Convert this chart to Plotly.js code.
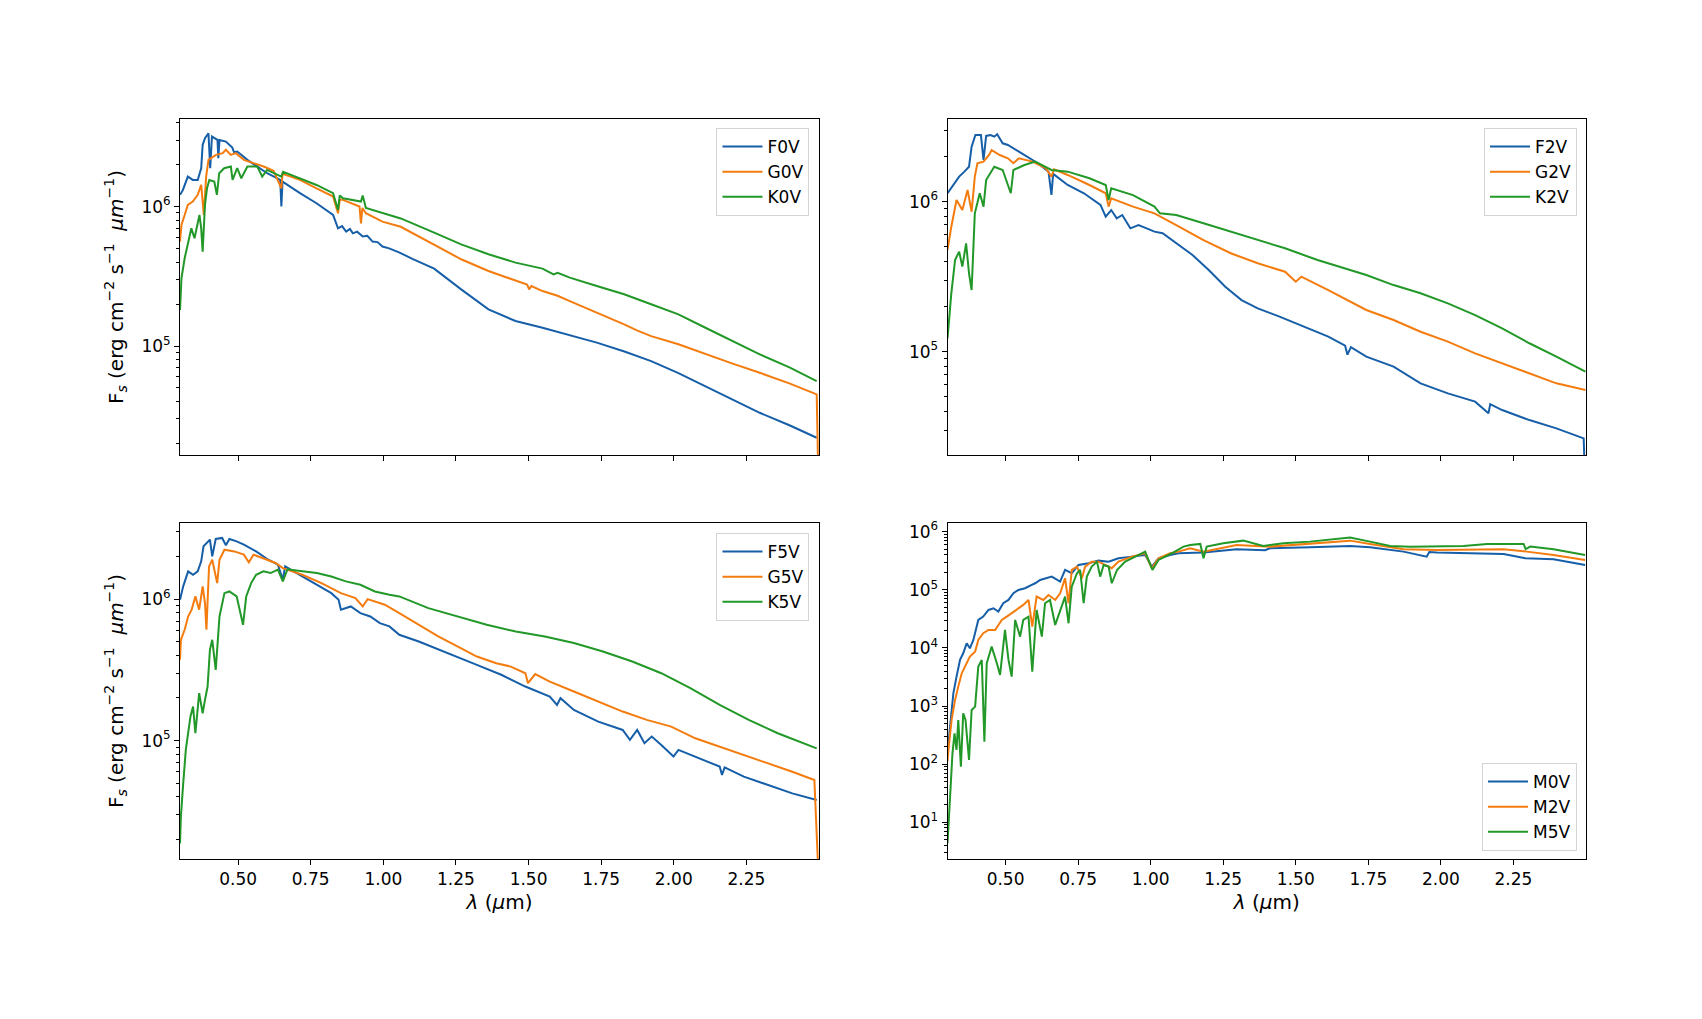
<!DOCTYPE html>
<html>
<head>
<meta charset="utf-8">
<script src="https://cdn.plot.ly/plotly-3.0.1.min.js"></script>
<style>
  body { margin: 0; background: #fff; }
</style>
</head>
<body>
<div id="chart" style="width:1702px;height:1019px"></div>
<script>
// wavelengths in micron, flux as log10(erg cm-2 s-1 um-1)

// top left: F0V, G0V, K0V
const f0vWave = [0.300,0.310,0.327,0.344,0.361,0.373,0.378,0.386,0.398,0.404,0.410,0.429,0.432,0.436,0.458,0.480,0.486,0.497,0.532,0.566,0.600,0.645,0.649,0.653,0.713,0.770,0.827,0.844,0.858,0.872,0.885,0.895,0.910,0.929,0.945,0.963,0.980,0.997,1.020,1.054,1.100,1.175,1.220,1.268,1.362,1.455,1.548,1.640,1.735,1.830,1.922,2.016,2.109,2.200,2.296,2.400,2.492];
const f0vLog = [6.084,6.119,6.215,6.191,6.191,6.275,6.443,6.490,6.526,6.275,6.502,6.478,6.347,6.478,6.466,6.423,6.390,6.395,6.335,6.287,6.239,6.191,6.000,6.179,6.096,6.024,5.940,5.844,5.860,5.820,5.840,5.808,5.820,5.785,5.790,5.749,5.745,5.713,5.700,5.672,5.625,5.555,5.480,5.406,5.263,5.179,5.131,5.080,5.024,4.960,4.892,4.805,4.712,4.620,4.521,4.430,4.342];

const g0vWave = [0.300,0.305,0.316,0.327,0.344,0.361,0.373,0.382,0.390,0.398,0.407,0.424,0.447,0.458,0.475,0.492,0.520,0.554,0.588,0.622,0.649,0.653,0.713,0.770,0.827,0.844,0.850,0.861,0.918,0.923,0.928,0.940,0.997,1.060,1.175,1.268,1.362,1.455,1.495,1.502,1.510,1.548,1.600,1.642,1.690,1.735,1.780,1.829,1.875,1.922,2.016,2.109,2.200,2.296,2.400,2.492,2.499];
const g0vLog = [5.749,5.868,5.940,6.012,6.036,6.084,6.155,5.940,6.215,6.335,6.347,6.371,6.383,6.407,6.371,6.383,6.335,6.311,6.287,6.256,6.131,6.235,6.191,6.131,6.072,5.952,6.050,6.048,6.000,5.880,5.990,5.952,5.892,5.855,5.729,5.622,5.538,5.473,5.440,5.406,5.430,5.394,5.360,5.322,5.280,5.239,5.200,5.155,5.110,5.071,5.012,4.940,4.875,4.808,4.730,4.653,3.900];

const k0vWave = [0.300,0.305,0.316,0.327,0.339,0.350,0.367,0.373,0.378,0.386,0.393,0.401,0.418,0.427,0.435,0.452,0.475,0.481,0.497,0.511,0.532,0.566,0.583,0.600,0.649,0.655,0.713,0.770,0.827,0.844,0.850,0.861,0.923,0.929,0.940,0.997,1.060,1.175,1.268,1.362,1.455,1.548,1.586,1.600,1.642,1.735,1.829,1.922,2.016,2.109,2.200,2.296,2.400,2.492];
const k0vLog = [5.258,5.485,5.629,5.725,5.844,5.773,5.940,5.844,5.677,6.012,6.131,6.191,6.179,6.084,6.239,6.275,6.287,6.191,6.275,6.203,6.287,6.287,6.215,6.263,6.215,6.250,6.203,6.155,6.096,5.976,6.080,6.060,6.036,6.080,5.990,5.952,5.915,5.813,5.729,5.658,5.598,5.555,5.514,5.525,5.490,5.430,5.371,5.299,5.227,5.131,5.040,4.940,4.845,4.748];

// top right: F2V, G2V, K2V
const f2vWave = [0.300,0.322,0.340,0.358,0.374,0.383,0.396,0.415,0.424,0.433,0.448,0.461,0.471,0.490,0.508,0.546,0.583,0.611,0.648,0.658,0.664,0.714,0.770,0.827,0.845,0.864,0.883,0.902,0.930,0.958,0.986,1.013,1.041,1.088,1.144,1.200,1.257,1.313,1.369,1.444,1.500,1.556,1.612,1.670,1.678,1.690,1.743,1.837,1.930,2.024,2.118,2.164,2.170,2.211,2.305,2.398,2.492,2.499];
const f2vLog = [6.056,6.122,6.167,6.200,6.233,6.367,6.444,6.444,6.278,6.438,6.444,6.433,6.449,6.389,6.378,6.333,6.289,6.256,6.200,6.045,6.185,6.111,6.056,5.978,5.900,5.944,5.889,5.911,5.822,5.844,5.822,5.800,5.789,5.722,5.644,5.544,5.433,5.344,5.289,5.234,5.189,5.144,5.100,5.040,4.980,5.030,4.967,4.900,4.789,4.722,4.667,4.589,4.650,4.611,4.544,4.489,4.422,4.000];

const g2vWave = [0.300,0.313,0.331,0.351,0.369,0.383,0.394,0.403,0.424,0.443,0.452,0.480,0.508,0.527,0.546,0.593,0.639,0.658,0.667,0.714,0.789,0.845,0.855,0.864,0.939,1.013,1.088,1.182,1.276,1.369,1.463,1.500,1.519,1.612,1.743,1.837,1.930,2.024,2.118,2.211,2.305,2.398,2.498];
const g2vLog = [5.678,5.833,6.011,5.944,6.078,5.933,6.167,6.256,6.267,6.311,6.344,6.311,6.289,6.256,6.289,6.267,6.222,6.167,6.215,6.178,6.111,6.056,5.967,6.022,5.967,5.922,5.844,5.744,5.656,5.589,5.533,5.467,5.500,5.411,5.278,5.211,5.133,5.067,4.989,4.922,4.856,4.789,4.745];

const k2vWave = [0.300,0.313,0.326,0.340,0.351,0.364,0.374,0.383,0.394,0.411,0.424,0.433,0.461,0.490,0.518,0.527,0.565,0.602,0.658,0.714,0.789,0.845,0.855,0.864,0.939,1.013,1.032,1.088,1.182,1.276,1.369,1.463,1.575,1.650,1.743,1.837,1.930,2.024,2.118,2.211,2.305,2.398,2.498];
const k2vLog = [5.089,5.389,5.611,5.667,5.567,5.722,5.522,5.411,5.922,6.056,5.967,6.144,6.233,6.211,6.056,6.211,6.244,6.267,6.211,6.200,6.156,6.111,6.011,6.089,6.044,5.967,5.922,5.911,5.856,5.800,5.744,5.689,5.611,5.567,5.511,5.444,5.389,5.322,5.244,5.156,5.056,4.967,4.867];

// bottom left: F5V, G5V, K5V
const f5vWave = [0.300,0.311,0.328,0.345,0.361,0.373,0.381,0.395,0.403,0.411,0.423,0.445,0.458,0.470,0.495,0.520,0.562,0.604,0.637,0.654,0.662,0.721,0.771,0.821,0.846,0.854,0.888,0.921,0.955,0.988,1.021,1.055,1.122,1.239,1.322,1.406,1.489,1.573,1.598,1.610,1.656,1.740,1.824,1.849,1.874,1.899,1.924,1.957,1.999,2.016,2.074,2.158,2.166,2.175,2.241,2.325,2.408,2.492];
const f5vLog = [5.995,6.090,6.196,6.172,6.196,6.267,6.373,6.408,6.420,6.302,6.425,6.432,6.380,6.425,6.408,6.385,6.337,6.278,6.243,6.137,6.231,6.160,6.101,6.042,5.995,5.925,5.948,5.901,5.877,5.830,5.807,5.748,5.700,5.606,5.535,5.465,5.382,5.311,5.252,5.300,5.217,5.134,5.075,5.005,5.075,4.981,5.028,4.969,4.887,4.934,4.887,4.816,4.757,4.810,4.745,4.686,4.627,4.580];

const g5vWave = [0.300,0.303,0.316,0.328,0.340,0.353,0.366,0.378,0.386,0.391,0.400,0.411,0.428,0.436,0.453,0.487,0.520,0.537,0.553,0.587,0.629,0.654,0.721,0.787,0.854,0.904,0.929,0.946,1.005,1.055,1.122,1.189,1.255,1.322,1.389,1.439,1.489,1.498,1.523,1.573,1.656,1.740,1.824,1.907,1.991,2.074,2.158,2.241,2.325,2.408,2.484,2.499];
const g5vLog = [5.571,5.712,5.783,5.877,5.925,6.019,5.925,6.090,5.972,5.783,6.231,6.278,6.113,6.278,6.349,6.337,6.314,6.260,6.314,6.290,6.255,6.219,6.172,6.113,6.042,6.007,5.948,6.000,5.960,5.901,5.818,5.736,5.665,5.594,5.547,5.523,5.476,5.406,5.470,5.417,5.347,5.276,5.205,5.146,5.099,5.016,4.957,4.898,4.839,4.780,4.721,4.000];

const k5vWave = [0.300,0.303,0.311,0.320,0.328,0.336,0.345,0.353,0.366,0.378,0.386,0.395,0.403,0.411,0.423,0.436,0.453,0.470,0.495,0.517,0.528,0.545,0.562,0.587,0.612,0.637,0.654,0.670,0.721,0.771,0.821,0.871,0.921,0.971,1.021,1.055,1.155,1.255,1.356,1.456,1.556,1.656,1.756,1.857,1.957,2.057,2.158,2.258,2.358,2.492];
const k5vLog = [4.273,4.462,4.698,4.934,5.052,5.170,5.240,5.052,5.335,5.193,5.288,5.382,5.641,5.712,5.500,5.877,6.042,6.054,6.019,5.818,6.019,6.113,6.172,6.196,6.184,6.208,6.125,6.210,6.196,6.184,6.160,6.125,6.101,6.054,6.031,6.019,5.936,5.877,5.818,5.771,5.736,5.689,5.630,5.559,5.476,5.370,5.252,5.146,5.052,4.945];

// bottom right: M0V, M2V, M5V
const m0vWave = [0.300,0.302,0.308,0.320,0.331,0.343,0.354,0.366,0.377,0.389,0.406,0.423,0.441,0.458,0.475,0.492,0.510,0.527,0.544,0.567,0.590,0.602,0.619,0.636,0.659,0.688,0.705,0.728,0.751,0.786,0.820,0.855,0.889,0.935,0.981,1.004,1.027,1.067,1.096,1.182,1.296,1.394,1.411,1.549,1.687,1.756,1.871,1.951,1.960,1.986,2.101,2.216,2.291,2.388,2.497];
const m0vLog = [2.200,2.302,2.646,3.219,3.506,3.793,3.907,4.079,3.993,4.137,4.481,4.538,4.653,4.682,4.624,4.768,4.825,4.940,4.997,5.026,5.083,5.112,5.169,5.198,5.226,5.140,5.341,5.284,5.427,5.456,5.501,5.484,5.542,5.570,5.599,5.398,5.542,5.599,5.628,5.639,5.696,5.680,5.714,5.731,5.754,5.731,5.656,5.570,5.650,5.639,5.628,5.616,5.542,5.524,5.427];

const m2vWave = [0.300,0.302,0.314,0.326,0.337,0.349,0.360,0.377,0.395,0.406,0.423,0.441,0.464,0.487,0.504,0.521,0.538,0.561,0.579,0.592,0.607,0.630,0.648,0.671,0.688,0.705,0.717,0.728,0.746,0.763,0.774,0.797,0.820,0.843,0.866,0.889,0.935,0.981,1.004,1.027,1.067,1.096,1.136,1.182,1.296,1.411,1.549,1.687,1.756,1.871,1.986,2.101,2.216,2.296,2.388,2.497];
const m2vLog = [2.050,2.187,2.761,3.105,3.334,3.563,3.678,3.850,3.936,4.137,4.252,4.309,4.309,4.481,4.538,4.596,4.653,4.739,4.825,4.366,4.882,4.825,4.911,4.825,4.940,5.198,4.768,5.341,5.398,5.198,5.398,5.484,5.484,5.427,5.370,5.484,5.570,5.628,5.370,5.542,5.628,5.656,5.714,5.656,5.771,5.742,5.788,5.845,5.788,5.696,5.685,5.696,5.696,5.656,5.599,5.513];

const m5vWave = [0.300,0.305,0.312,0.317,0.324,0.331,0.337,0.346,0.354,0.362,0.374,0.383,0.395,0.406,0.418,0.427,0.435,0.452,0.470,0.481,0.498,0.510,0.521,0.533,0.550,0.561,0.579,0.592,0.607,0.625,0.636,0.653,0.671,0.688,0.705,0.717,0.728,0.746,0.757,0.769,0.780,0.797,0.815,0.826,0.838,0.855,0.866,0.884,0.912,0.947,0.981,1.006,1.027,1.073,1.113,1.136,1.171,1.182,1.193,1.250,1.319,1.388,1.457,1.549,1.618,1.687,1.756,1.825,1.894,1.986,2.078,2.159,2.285,2.292,2.308,2.388,2.497];
const m5vLog = [0.639,1.155,1.843,2.187,2.531,2.245,2.761,1.958,2.876,2.761,2.072,2.933,2.990,3.678,3.793,2.388,3.735,4.022,3.735,3.535,4.309,3.793,3.506,4.481,4.194,4.481,4.538,3.592,4.653,4.194,4.768,4.825,4.395,4.653,4.882,4.424,5.054,5.284,5.341,4.768,5.226,5.398,5.484,5.226,5.427,5.398,5.112,5.341,5.484,5.570,5.656,5.341,5.513,5.628,5.742,5.771,5.788,5.542,5.742,5.800,5.845,5.754,5.800,5.828,5.868,5.897,5.828,5.754,5.742,5.754,5.754,5.788,5.788,5.700,5.742,5.696,5.599];

const xTicks = [0.5, 0.75, 1.0, 1.25, 1.5, 1.75, 2.0, 2.25];

const BLUE = '#165fa8';
const ORANGE = '#f47c0e';
const GREEN = '#219827';

function spec(wave, logFlux, name, color, n) {
  const sfx = n === 1 ? '' : String(n);
  return {
    x: wave,
    y: logFlux.map(v => Math.pow(10, v)),
    type: 'scatter',
    mode: 'lines',
    name: name,
    line: { color: color, width: 2 },
    xaxis: 'x' + sfx,
    yaxis: 'y' + sfx,
    legend: 'legend' + sfx
  };
}

const data = [
  spec(f0vWave, f0vLog, 'F0V', BLUE, 1),
  spec(g0vWave, g0vLog, 'G0V', ORANGE, 1),
  spec(k0vWave, k0vLog, 'K0V', GREEN, 1),
  spec(f2vWave, f2vLog, 'F2V', BLUE, 2),
  spec(g2vWave, g2vLog, 'G2V', ORANGE, 2),
  spec(k2vWave, k2vLog, 'K2V', GREEN, 2),
  spec(f5vWave, f5vLog, 'F5V', BLUE, 3),
  spec(g5vWave, g5vLog, 'G5V', ORANGE, 3),
  spec(k5vWave, k5vLog, 'K5V', GREEN, 3),
  spec(m0vWave, m0vLog, 'M0V', BLUE, 4),
  spec(m2vWave, m2vLog, 'M2V', ORANGE, 4),
  spec(m5vWave, m5vLog, 'M5V', GREEN, 4)
];

const FONT = 'DejaVu Sans, sans-serif';

function xAxis(domain, anchor, labels) {
  const ax = {
    domain: domain,
    anchor: anchor,
    range: [0.3, 2.5],
    tickvals: xTicks,
    ticktext: xTicks.map(v => v.toFixed(2)),
    showticklabels: labels,
    ticks: 'outside',
    ticklen: 5,
    tickwidth: 1,
    tickcolor: '#000',
    showline: true,
    mirror: true,
    linecolor: '#000',
    linewidth: 1,
    showgrid: false,
    zeroline: false,
    tickfont: { family: FONT, size: 17, color: '#000' }
  };
  if (labels) {
    ax.title = { text: '<i>λ</i> (<i>μ</i>m)', font: { family: FONT, size: 20, color: '#000' }, standoff: 6 };
  }
  return ax;
}

function yAxis(domain, anchor, range, decades, withTitle) {
  const ax = {
    domain: domain,
    anchor: anchor,
    type: 'log',
    range: range,
    tickvals: decades.map(d => Math.pow(10, d)),
    ticktext: decades.map(d => '10<sup>' + d + '</sup>'),
    ticks: 'outside',
    ticklen: 5,
    tickwidth: 1,
    tickcolor: '#000',
    minor: { ticks: 'outside', ticklen: 3, tickwidth: 1, tickcolor: '#000', dtick: 'D1', showgrid: false },
    showline: true,
    mirror: true,
    linecolor: '#000',
    linewidth: 1,
    showgrid: false,
    zeroline: false,
    tickfont: { family: FONT, size: 17, color: '#000' }
  };
  if (withTitle) {
    ax.title = {
      text: 'F<sub><i>s</i></sub> (erg cm<sup>−2</sup> s<sup>−1</sup>  <i>μm</i><sup>−1</sup>)',
      font: { family: FONT, size: 20, color: '#000' },
      standoff: 12
    };
  }
  return ax;
}

function legendBox(x, y, yanchor) {
  return {
    x: x, y: y, xanchor: 'right', yanchor: yanchor,
    bgcolor: 'rgba(255,255,255,0.85)',
    bordercolor: '#d4d4d4',
    borderwidth: 1,
    font: { family: FONT, size: 17, color: '#000' },
    itemwidth: 40
  };
}

const leftX = [0, 0.4545];
const rightX = [0.5459, 1];
const topY = [0.5459, 1];
const botY = [0, 0.4541];

const layout = {
  width: 1702,
  height: 1019,
  margin: { l: 180, r: 116, t: 119, b: 160 },
  paper_bgcolor: '#fff',
  plot_bgcolor: '#fff',
  font: { family: FONT, color: '#000' },
  showlegend: true,
  xaxis: xAxis(leftX, 'y', false),
  yaxis: yAxis(topY, 'x', [4.218, 6.628], [5, 6], true),
  xaxis2: xAxis(rightX, 'y2', false),
  yaxis2: yAxis(topY, 'x2', [4.311, 6.551], [5, 6], false),
  xaxis3: xAxis(leftX, 'y3', true),
  yaxis3: yAxis(botY, 'x3', [4.163, 6.538], [5, 6], true),
  xaxis4: xAxis(rightX, 'y4', true),
  yaxis4: yAxis(botY, 'x4', [0.369, 6.149], [1, 2, 3, 4, 5, 6], false),
  legend: legendBox(0.4477, 0.9878, 'top'),
  legend2: legendBox(0.9936, 0.9878, 'top'),
  legend3: legendBox(0.4477, 0.4405, 'top'),
  legend4: legendBox(0.9936, 0.0108, 'bottom')
};

Plotly.newPlot('chart', data, layout, { displayModeBar: false, responsive: false });
</script>
</body>
</html>
